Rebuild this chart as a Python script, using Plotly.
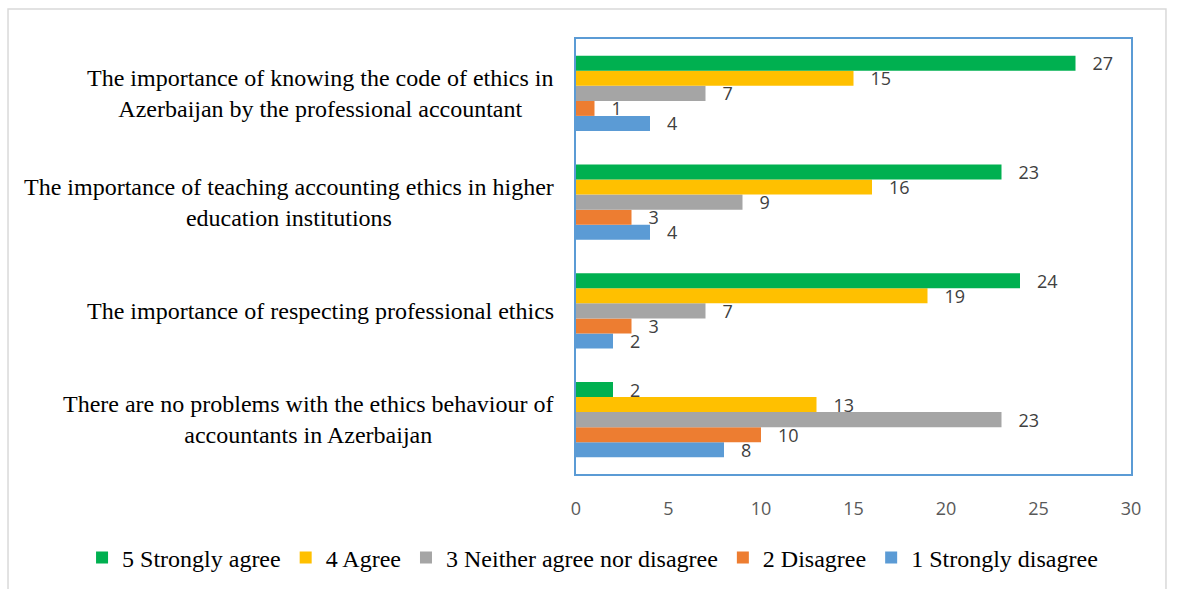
import plotly.graph_objects as go

categories = [
    "There are no problems with the ethics behaviour of<br>accountants in Azerbaijan",
    "The importance of respecting professional ethics",
    "The importance of teaching accounting ethics in higher<br>education institutions",
    "The importance of knowing the code of ethics in<br>Azerbaijan by the professional accountant",
]
series_names = ["1 Strongly disagree", "2 Disagree", "3 Neither agree nor disagree", "4 Agree", "5 Strongly agree"]
strongly_disagree = [8, 2, 4, 4]
disagree = [10, 3, 3, 1]
neither = [23, 7, 9, 7]
agree = [13, 19, 16, 15]
strongly_agree = [2, 24, 23, 27]
series_values = [strongly_disagree, disagree, neither, agree, strongly_agree]
colors = ["#5B9BD5", "#ED7D31", "#A5A5A5", "#FFC000", "#00B050"]
x_ticks = [0, 5, 10, 15, 20, 25, 30]

fig = go.Figure()
for name, vals, col in zip(series_names, series_values, colors):
    fig.add_trace(go.Bar(
        y=categories, x=vals, name=name, orientation="h",
        marker=dict(color=col, line=dict(width=0)),
        text=["\u00a0\u00a0\u00a0" + str(v) for v in vals],
        textposition="outside", cliponaxis=False, constraintext="none",
        textfont=dict(family="Open Sans", size=18, color="#404040"),
    ))

for c in categories:
    fig.add_annotation(x=0, xref="paper", y=c, yref="y", text=c,
                       xanchor="right", yanchor="middle", xshift=-20, align="center",
                       showarrow=False,
                       font=dict(family="Liberation Serif", size=24, color="#000000"))

# outer chart frame
fig.add_shape(type="rect", xref="paper", yref="paper",
              x0=-1.0234, x1=1.063, y0=-0.5, y1=1.069,
              line=dict(color="#D9D9D9", width=1.5), fillcolor="rgba(0,0,0,0)", layer="below")

fig.update_layout(
    width=1177, height=589,
    margin=dict(l=576, r=46, t=39, b=115, autoexpand=False),
    paper_bgcolor="white", plot_bgcolor="white",
    barmode="group", bargap=0.31, bargroupgap=0,
    showlegend=True,
    legend=dict(orientation="h", traceorder="reversed",
                x=-0.890, xanchor="left", y=-0.193, yanchor="middle",
                font=dict(family="Liberation Serif", size=24, color="#000000")),
    xaxis=dict(range=[0, 30], tickvals=x_ticks, showgrid=False, zeroline=False,
               showline=True, mirror=True, linecolor="#5B9BD5", linewidth=1.5,
               ticks="", ticklabelstandoff=18,
               tickfont=dict(family="Open Sans", size=18, color="#595959")),
    yaxis=dict(showticklabels=False, showgrid=False, zeroline=False,
               showline=True, mirror=True, linecolor="#5B9BD5", linewidth=1.5, ticks=""),
)

fig.write_html("out.html", config={"displayModeBar": False},
               post_script="document.body.style.margin='0';")
